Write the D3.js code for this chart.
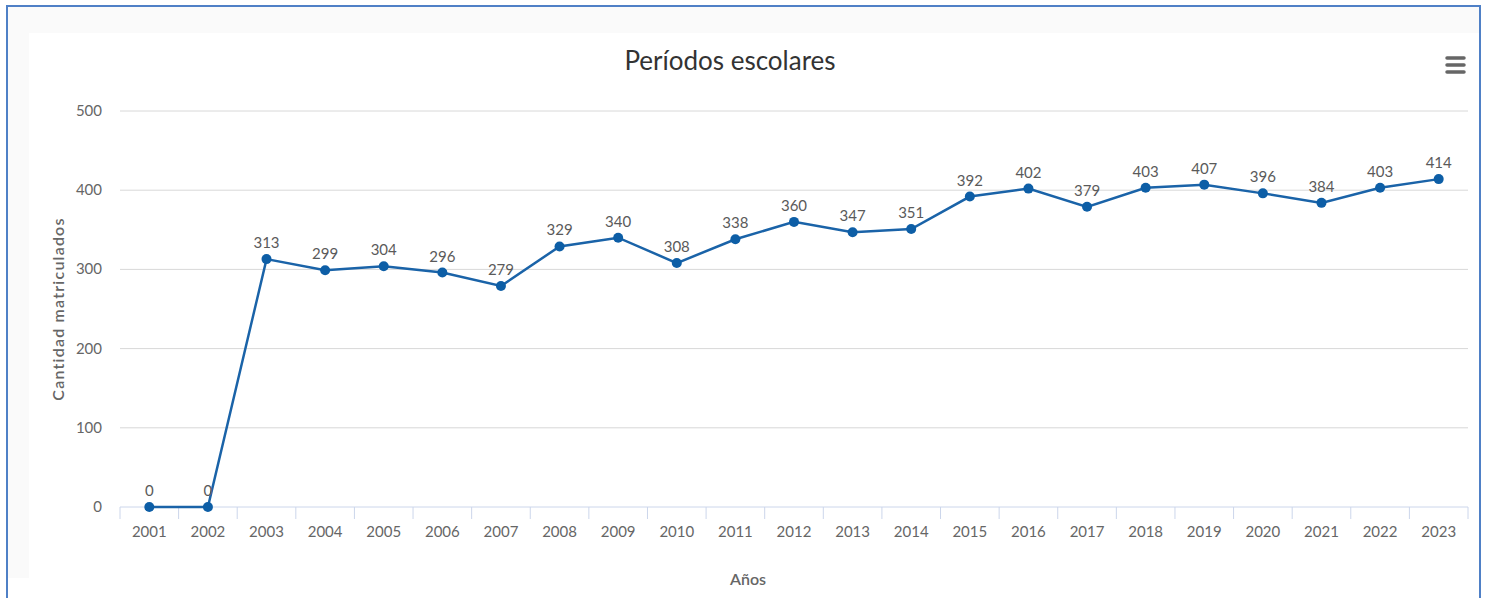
<!DOCTYPE html>
<html>
<head>
<meta charset="utf-8">
<script src="https://cdn.jsdelivr.net/npm/d3@7"></script>
<style>
  body { margin: 0; background: #fff; }
  svg text { font-family: Lato, "Noto Sans", sans-serif; }
</style>
</head>
<body>
<script>
const years = ["2001","2002","2003","2004","2005","2006","2007","2008","2009","2010","2011","2012",
  "2013","2014","2015","2016","2017","2018","2019","2020","2021","2022","2023"];
const students = [0,0,313,299,304,296,279,329,340,308,338,360,347,351,392,402,379,403,407,396,384,403,414];
const yTicks = [0,100,200,300,400,500];

function createChart() {
    const svgWidth = 1488, svgHeight = 598;
    const margin = { top: 111, right: 20, bottom: 91, left: 120 };
    const width = svgWidth - margin.left - margin.right;
    const height = svgHeight - margin.top - margin.bottom;

    const svg = d3.create("svg")
        .attr("width", svgWidth)
        .attr("height", svgHeight);

    // frame: blue border, light grey band top/left, white chart area
    svg.append("rect")
        .attr("x", 7).attr("y", 6)
        .attr("width", 1473).attr("height", 600)
        .attr("fill", "#fafafa")
        .attr("stroke", "#4f80c6")
        .attr("stroke-width", 2);
    svg.append("rect")
        .attr("x", 29).attr("y", 33)
        .attr("width", 1450).attr("height", 570)
        .attr("fill", "#fff");
    svg.append("rect")
        .attr("x", 8).attr("y", 578)
        .attr("width", 22).attr("height", 25)
        .attr("fill", "#fff");

    const x = d3.scaleBand().domain(years).range([0, width]);
    const y = d3.scaleLinear().domain([0, 500]).range([height, 0]);

    const g = svg.append("g")
        .attr("transform", `translate(${margin.left},${margin.top})`);

    // grid
    g.append("g")
        .selectAll("line")
        .data(yTicks.filter(d => d > 0))
        .join("line")
        .attr("x1", 0).attr("x2", width)
        .attr("y1", d => y(d)).attr("y2", d => y(d))
        .attr("stroke", "#d8d8d8");

    // y labels
    g.append("g")
        .selectAll("text")
        .data(yTicks)
        .join("text")
        .attr("x", -18)
        .attr("y", d => y(d) + 5)
        .attr("text-anchor", "end")
        .attr("fill", "#666")
        .style("font-size", "15px")
        .text(d => d);

    // x axis
    const gx = g.append("g").attr("transform", `translate(0,${height})`);
    gx.append("line")
        .attr("x1", 0).attr("x2", width)
        .attr("stroke", "#ccd6eb");
    gx.selectAll(".tick")
        .data(years.concat(["end"]))
        .join("line")
        .attr("x1", (d, i) => i * x.step()).attr("x2", (d, i) => i * x.step())
        .attr("y1", 0).attr("y2", 12)
        .attr("stroke", "#ccd6eb");
    gx.selectAll(".lbl")
        .data(years)
        .join("text")
        .attr("x", d => x(d) + x.bandwidth() / 2)
        .attr("y", 30)
        .attr("text-anchor", "middle")
        .attr("fill", "#666")
        .style("font-size", "15px")
        .text(d => d);

    // line + markers
    const line = d3.line()
        .x((d, i) => x(years[i]) + x.bandwidth() / 2)
        .y(d => y(d));
    g.append("path")
        .datum(students)
        .attr("d", line)
        .attr("fill", "none")
        .attr("stroke", "#1a63a8")
        .attr("stroke-width", 2.5);
    g.selectAll(".pt")
        .data(students)
        .join("circle")
        .attr("cx", (d, i) => x(years[i]) + x.bandwidth() / 2)
        .attr("cy", d => y(d))
        .attr("r", 5)
        .attr("fill", "#0d5ea6");
    g.selectAll(".dl")
        .data(students)
        .join("text")
        .attr("x", (d, i) => x(years[i]) + x.bandwidth() / 2)
        .attr("y", d => y(d) - 11)
        .attr("text-anchor", "middle")
        .attr("fill", "#5a5a5a")
        .style("font-size", "15px")
        .text(d => d);

    // titles
    svg.append("text")
        .attr("x", 730).attr("y", 70)
        .attr("text-anchor", "middle")
        .attr("fill", "#333")
        .style("font-size", "26px")
        .text("Períodos escolares");
    svg.append("text")
        .attr("x", 748).attr("y", 585)
        .attr("text-anchor", "middle")
        .attr("fill", "#666")
        .style("font-size", "16px")
        .style("font-weight", "600")
        .text("Años");
    svg.append("text")
        .attr("transform", `translate(64,${margin.top + height / 2}) rotate(-90)`)
        .attr("text-anchor", "middle")
        .attr("fill", "#666")
        .style("font-size", "16px")
        .style("font-weight", "600")
        .style("letter-spacing", "1.2px")
        .text("Cantidad matriculados");

    // menu icon
    svg.append("g")
        .selectAll("line")
        .data([0, 1, 2])
        .join("line")
        .attr("x1", 1447).attr("x2", 1464)
        .attr("y1", d => 58 + d * 7).attr("y2", d => 58 + d * 7)
        .attr("stroke", "#666")
        .attr("stroke-width", 3.5)
        .attr("stroke-linecap", "round");

    document.body.append(svg.node());
}

createChart();
</script>
</body>
</html>
